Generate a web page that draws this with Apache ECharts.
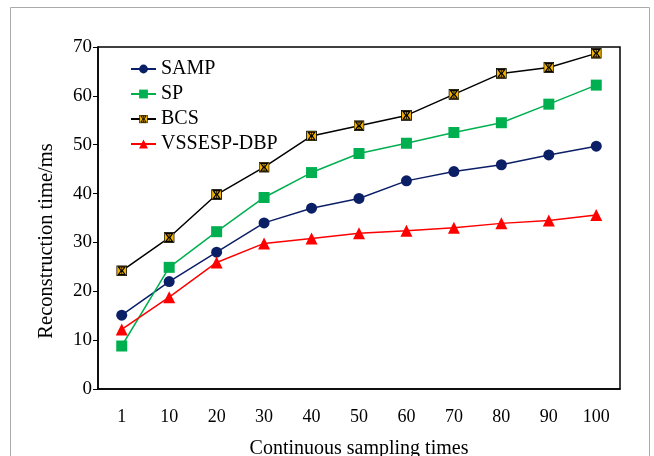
<!DOCTYPE html>
<html><head><meta charset="utf-8">
<script src="https://cdn.jsdelivr.net/npm/echarts@6/dist/echarts.min.js"></script>
<style>html,body{margin:0;padding:0;background:#fff}#c{width:654px;height:456px}</style>
</head><body><div id="c"></div>
<script>
const categories = ['1','10','20','30','40','50','60','70','80','90','100'];
const samp = [15.1, 22.0, 28.0, 34.0, 37.0, 39.0, 42.6, 44.5, 45.9, 47.9, 49.7];
const sp = [8.8, 24.9, 32.2, 39.2, 44.3, 48.2, 50.3, 52.5, 54.5, 58.3, 62.2];
const bcs = [24.2, 31.0, 39.8, 45.4, 51.8, 53.9, 56.0, 60.3, 64.6, 65.8, 68.7];
const vssesp = [12.2, 18.8, 25.9, 29.8, 30.8, 31.9, 32.4, 33.0, 33.9, 34.5, 35.6];
const yTicks = [0, 10, 20, 30, 40, 50, 60, 70];

const bcsSvg = '<svg xmlns="http://www.w3.org/2000/svg" width="20" height="20" viewBox="0 0 20 20">' +
  '<rect x="1" y="1" width="18" height="18" fill="#f2b200" stroke="#000" stroke-width="1.5"/>' +
  '<path d="M4 3 L16 3 L11 10 L16 17 L4 17 L9 10 Z" fill="none" stroke="#000" stroke-width="2.2"/>' +
  '<line x1="10" y1="3" x2="10" y2="17" stroke="#000" stroke-width="1.5"/></svg>';
const bcsSymbol = 'image://data:image/svg+xml;charset=utf-8,' + encodeURIComponent(bcsSvg);

const font = 'Liberation Serif';
const chart = echarts.init(document.getElementById('c'));
chart.setOption({
  animation: false,
  backgroundColor: '#fff',
  textStyle: { fontFamily: font },
  graphic: [{ type: 'rect', shape: { x: 10.5, y: 7.5, width: 639, height: 460 }, style: { fill: 'none', stroke: '#aaa', lineWidth: 1 }, silent: true }],
  grid: { left: 98, right: 34, top: 47, bottom: 67, outerBoundsMode: 'none', containLabel: false,
    show: true, borderColor: '#000', borderWidth: 1.5, backgroundColor: 'transparent' },
  legend: {
    orient: 'vertical', left: 130, top: 59, padding: 0, itemGap: 5, itemWidth: 25, itemHeight: 11,
    textStyle: { fontFamily: font, fontSize: 20, color: '#000' },
    data: ['SAMP', 'SP', 'BCS', 'VSSESP-DBP']
  },
  xAxis: {
    type: 'category', data: categories, boundaryGap: true,
    name: 'Continuous sampling times', nameLocation: 'middle', nameGap: 50,
    nameTextStyle: { fontFamily: font, fontSize: 20, color: '#000' },
    axisLine: { lineStyle: { color: '#000', width: 1.5 } },
    axisTick: { inside: true, length: 6, lineStyle: { color: '#000' } },
    axisLabel: { fontFamily: font, fontSize: 18, color: '#000', margin: 19 },
    splitLine: { show: false }
  },
  yAxis: {
    type: 'value', min: yTicks[0], max: yTicks[yTicks.length - 1], interval: 10,
    name: 'Reconstruction time/ms', nameLocation: 'middle', nameGap: 41,
    nameTextStyle: { fontFamily: font, fontSize: 20.5, color: '#000', padding: [0, 46, 0, 0] },
    axisLine: { show: true, lineStyle: { color: '#000', width: 1.5 } },
    axisTick: { show: true, inside: false, length: 5, lineStyle: { color: '#000' } },
    axisLabel: { fontFamily: font, fontSize: 19, color: '#000', margin: 6 },
    splitLine: { show: false }
  },
  series: [
    { name: 'SAMP', type: 'line', data: samp, symbol: 'circle', symbolSize: 11,
      itemStyle: { color: '#0b1f66' }, lineStyle: { color: '#0b1f66', width: 1.5 } },
    { name: 'SP', type: 'line', data: sp, symbol: 'rect', symbolSize: 11,
      itemStyle: { color: '#00b050' }, lineStyle: { color: '#00b050', width: 1.5 } },
    { name: 'BCS', type: 'line', data: bcs, symbol: bcsSymbol, symbolSize: 11,
      itemStyle: { color: '#000' }, lineStyle: { color: '#000', width: 1.5 } },
    { name: 'VSSESP-DBP', type: 'line', data: vssesp, symbol: 'triangle', symbolSize: 12,
      itemStyle: { color: '#ff0000' }, lineStyle: { color: '#ff0000', width: 1.5 } }
  ]
});
</script></body></html>
